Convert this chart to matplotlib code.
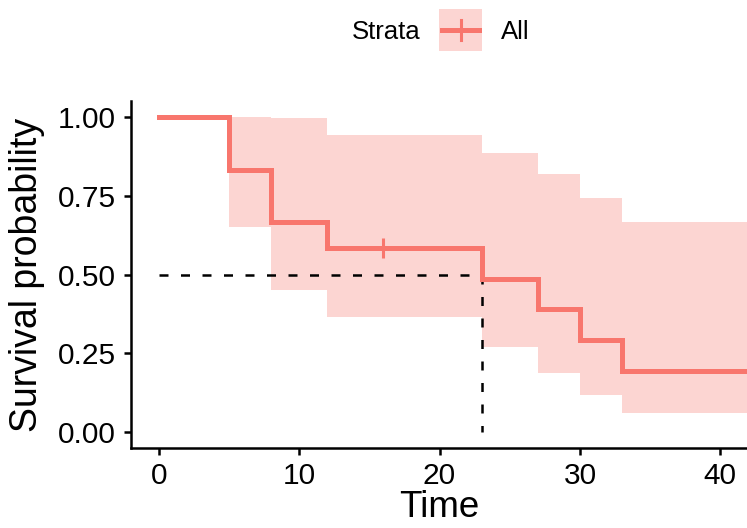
import matplotlib
matplotlib.use("Agg")
import matplotlib.pyplot as plt
from matplotlib.patches import Rectangle
from matplotlib.lines import Line2D
import numpy as np

plt.rcParams['font.family'] = ['Liberation Sans', 'DejaVu Sans']

# Kaplan-Meier estimate (step starts)
times = [0, 5, 8, 12, 23, 27, 30, 33]
surv = [1.0, 0.833, 0.667, 0.583, 0.486, 0.389, 0.292, 0.194]
upper = [1.0, 1.0, 0.997, 0.944, 0.885, 0.819, 0.743, 0.668]
lower = [1.0, 0.652, 0.450, 0.364, 0.271, 0.187, 0.116, 0.059]
end_time = 45
censor_times = [16]
median_time = 23
xticks = [0, 10, 20, 30, 40]
yticks = [0.0, 0.25, 0.5, 0.75, 1.0]
ytick_labels = ["0.00", "0.25", "0.50", "0.75", "1.00"]

col = "#F8766D"

W, H = 747, 528
fig = plt.figure(figsize=(W / 100, H / 100), dpi=100)
ax = fig.add_axes([131 / W, (528 - 447.75) / H, 1 - 131 / W, (447.75 - 101.25) / H])

t = np.array(times + [end_time])
s = np.array(surv + [surv[-1]])
u = np.array(upper + [upper[-1]])
l = np.array(lower + [lower[-1]])

ax.fill_between(t, l, u, step='post', color=col, alpha=0.3, linewidth=0)
ax.step(t, s, where='post', color=col, lw=3.6, solid_joinstyle='miter', zorder=3)

# censor marks
for ct in censor_times:
    idx = np.searchsorted(t, ct, side='right') - 1
    ax.plot([ct], [s[idx]], marker='|', color=col, markersize=14, markeredgewidth=2.2, zorder=4)

# median lines
ax.plot([0, median_time], [0.5, 0.5], color='black', lw=1.8, linestyle=(0, (3.6, 5.0)), zorder=2)
ax.plot([median_time, median_time], [0.5, 0], color='black', lw=1.8, linestyle=(0, (3.6, 5.0)), zorder=2)

ax.set_xlim(-1.98, 41.9)
ax.set_ylim(-0.05, 1.05)
ax.set_xticks(xticks)
ax.set_yticks(yticks)
ax.set_yticklabels(ytick_labels)
for side in ['top', 'right']:
    ax.spines[side].set_visible(False)
for side in ['left', 'bottom']:
    ax.spines[side].set_linewidth(1.8)
ax.tick_params(axis='both', direction='out', length=5, width=1.8, labelsize=21.5, colors='black')
ax.tick_params(axis='y', pad=6)
ax.tick_params(axis='x', pad=5)
ax.set_xlabel("Time", fontsize=26.5, labelpad=0)
ax.set_ylabel("Survival probability", fontsize=27, labelpad=9)

# Legend (top)
fig.text(420 / W, 1 - 32 / H, "Strata", fontsize=18.5, ha='right', va='center')
fig.patches.append(Rectangle((439 / W, 1 - 51 / H), 43 / W, 42 / H, transform=fig.transFigure,
                             facecolor=col, alpha=0.3, edgecolor='none'))
fig.lines.append(Line2D([442 / W, 479 / W], [1 - 30 / H, 1 - 30 / H], transform=fig.transFigure,
                        color=col, lw=3.6))
fig.lines.append(Line2D([460.5 / W, 460.5 / W], [1 - 20 / H, 1 - 40 / H], transform=fig.transFigure,
                        color=col, lw=2.2))
fig.text(501 / W, 1 - 32 / H, "All", fontsize=18.5, ha='left', va='center')

fig.savefig("out.png", dpi=100)
